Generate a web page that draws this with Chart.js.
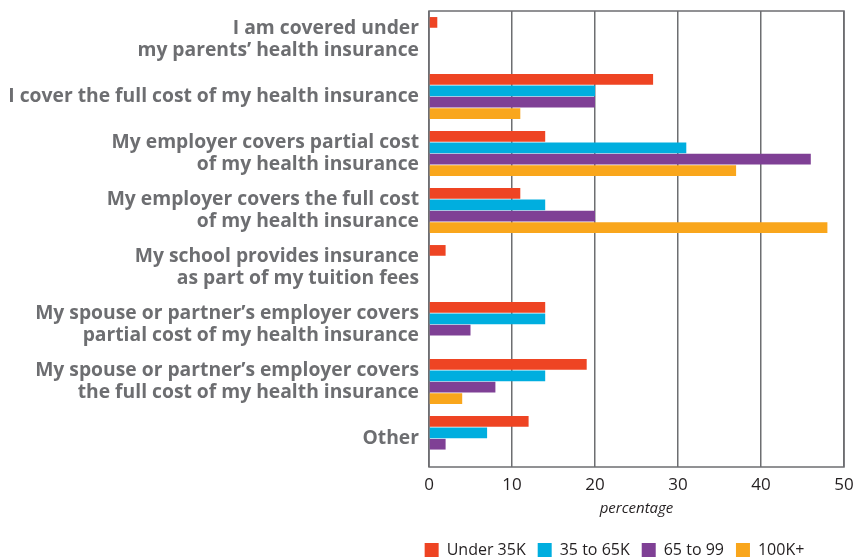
<!DOCTYPE html>
<html>
<head>
<meta charset="utf-8">
<script src="https://cdn.jsdelivr.net/npm/chart.js@4.4.0/dist/chart.umd.min.js"></script>
<style>
    html, body { margin: 0; padding: 0; background: #fff; }
</style>
</head>
<body>
<canvas id="barChart" width="856" height="559"></canvas>
<script>
// survey answers (multi-line labels as arrays)
const categories = [
    ['I am covered under', 'my parents\u2019 health insurance'],
    'I cover the full cost of my health insurance',
    ['My employer covers partial cost', 'of my health insurance'],
    ['My employer covers the full cost', 'of my health insurance'],
    ['My school provides insurance', 'as part of my tuition fees'],
    ['My spouse or partner\u2019s employer covers', 'partial cost of my health insurance'],
    ['My spouse or partner\u2019s employer covers', 'the full cost of my health insurance'],
    'Other'
];

const seriesNames = ['Under 35K', '35 to 65K', '65 to 99', '100K+'];
const under35K = [1, 27, 14, 11, 2, 14, 19, 12];
const from35to65K = [0, 20, 31, 14, 0, 14, 14, 7];
const from65to99 = [0, 20, 46, 20, 0, 5, 8, 2];
const over100K = [0, 11, 37, 48, 0, 0, 4, 0];
const xTicks = [0, 10, 20, 30, 40, 50];

const colors = ['#ee4423', '#00aedf', '#7f4095', '#f9a61c'];
const seriesValues = [under35K, from35to65K, from65to99, over100K];

// box around the plot area
const frame = {
    id: 'frame',
    beforeDatasetsDraw(chart) {
        const { ctx, chartArea } = chart;
        ctx.save();
        ctx.strokeStyle = '#6d6e71';
        ctx.lineWidth = 1.5;
        ctx.strokeRect(chartArea.left, chartArea.top, chartArea.right - chartArea.left, chartArea.bottom - chartArea.top);
        ctx.restore();
    }
};

// nudge the legend a little left of the plot centre
const legendShift = {
    id: 'legendShift',
    afterLayout(chart) {
        chart.legend.left -= 22;
        chart.legend.right -= 22;
    }
};

new Chart(document.getElementById('barChart').getContext('2d'), {
    type: 'bar',
    data: {
        labels: categories,
        datasets: seriesNames.map((name, i) => ({
            label: name,
            data: seriesValues[i],
            backgroundColor: colors[i],
            borderWidth: 0,
            barPercentage: 0.94,
            categoryPercentage: 0.8
        }))
    },
    options: {
        indexAxis: 'y',
        responsive: false,
        animation: false,
        layout: {
            padding: { top: 11, right: 12, left: 0, bottom: -9 }
        },
        scales: {
            x: {
                min: 0,
                max: 50,
                afterBuildTicks: (scale) => {
                    scale.ticks = xTicks.map((v) => ({ value: v }));
                },
                afterFit: (scale) => {
                    scale.height = 63;
                    scale.paddingLeft = 0;
                    scale.paddingRight = 0;
                },
                grid: {
                    color: '#6d6e71',
                    lineWidth: 1.5,
                    drawTicks: false
                },
                border: { display: false },
                ticks: {
                    color: '#231f20',
                    padding: 8,
                    font: { family: 'Open Sans', size: 17 }
                },
                title: {
                    display: true,
                    text: 'percentage',
                    color: '#231f20',
                    padding: { top: 4, bottom: 12 },
                    font: { family: 'Open Sans', size: 15, style: 'italic' }
                }
            },
            y: {
                grid: { display: false, drawTicks: false },
                border: { display: false },
                afterFit: (scale) => {
                    scale.width = 429;
                    scale.paddingTop = 0;
                    scale.paddingBottom = 0;
                },
                ticks: {
                    color: '#6d6e71',
                    padding: 10,
                    font: { family: 'Open Sans', size: 19.3, weight: 'bold', lineHeight: 1.1 }
                }
            }
        },
        plugins: {
            legend: {
                position: 'bottom',
                fullSize: false,
                labels: {
                    boxWidth: 14,
                    boxHeight: 14,
                    padding: 12,
                    color: '#231f20',
                    font: { family: 'Open Sans', size: 16 }
                }
            },
            tooltip: { enabled: false }
        }
    },
    plugins: [frame, legendShift]
});
</script>
</body>
</html>
